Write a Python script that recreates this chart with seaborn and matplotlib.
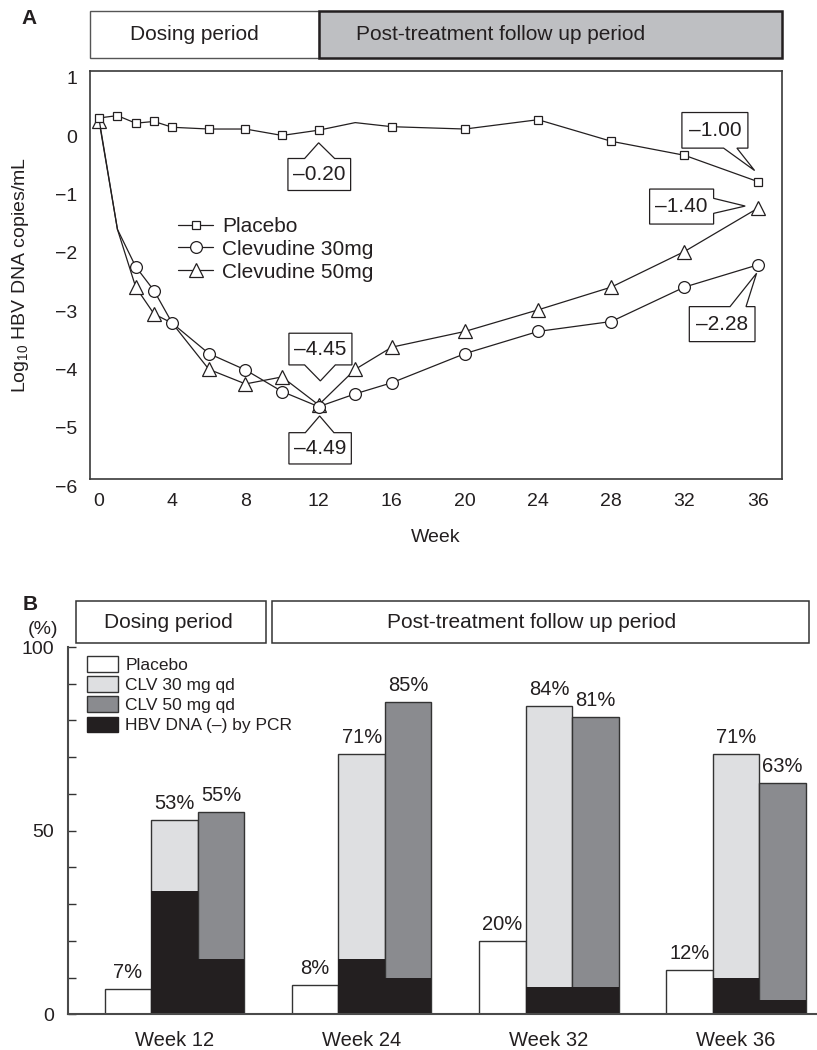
import numpy as np
import pandas as pd
import matplotlib
matplotlib.use("Agg")
import matplotlib.pyplot as plt
import matplotlib.transforms as mtransforms
from matplotlib.patches import Rectangle, Polygon, Patch
from matplotlib.lines import Line2D
import seaborn as sns

# ---------------- Panel A data ----------------
weeks = [0, 1, 2, 3, 4, 6, 8, 10, 12, 14, 16, 20, 24, 28, 32, 36]
placebo = [0.19, 0.23, 0.10, 0.13, 0.03, 0.00, 0.00, -0.11, -0.02, 0.11, 0.04, 0.00, 0.16, -0.21, -0.45, -0.90]
clv30 = [0.16, -1.72, -2.36, -2.77, -3.33, -3.85, -4.13, -4.50, -4.76, -4.54, -4.35, -3.85, -3.47, -3.30, -2.71, -2.33]
clv50 = [0.13, -1.72, -2.71, -3.17, -3.33, -4.12, -4.37, -4.25, -4.73, -4.12, -3.74, -3.47, -3.10, -2.71, -2.10, -1.36]
series_names = ["Placebo", "Clevudine 30mg", "Clevudine 50mg"]
week_ticks = [0, 4, 8, 12, 16, 20, 24, 28, 32, 36]
log_ticks = [-6, -5, -4, -3, -2, -1, 0, 1]
callout_labels = ["\u20130.20", "\u20131.00", "\u20131.40", "\u20132.28", "\u20134.45", "\u20134.49"]
period_labels = ["Dosing period", "Post-treatment follow up period"]

# ---------------- Panel B data ----------------
b_weeks = ["Week 12", "Week 24", "Week 32", "Week 36"]
b_groups = ["Placebo", "CLV 30 mg qd", "CLV 50 mg qd"]
pct_placebo = [7, 8, 20, 12]
pct_clv30 = [53, 71, 84, 71]
pct_clv50 = [55, 85, 81, 63]
pcr_label = "HBV DNA (\u2013) by PCR"
pcr_placebo = [0, 0, 0, 0]
pcr_clv30 = [33.5, 15, 7.5, 10]
pcr_clv50 = [15, 10, 7.5, 4]
pct_ticks = list(range(0, 101, 10))

# ---------------- style ----------------
sns.set_style("white")
plt.rcParams["font.family"] = ["Liberation Sans", "DejaVu Sans"]
plt.rcParams["mathtext.default"] = "regular"
plt.rcParams["text.color"] = "#231f20"

W, H = 817, 1050
fig = plt.figure(figsize=(W / 100, H / 100), dpi=100)

def fx(px):
    return px / W

def fy(py):
    return 1 - py / H

# ================= Panel A =================
axA = fig.add_axes([fx(90), fy(479), fx(782.3) - fx(90), fy(70.7) - fy(479)])
ink = "#231f20"
common = dict(color=ink, lw=0.9, mfc="white", mec=ink, mew=0.9, ax=axA)
sns.lineplot(x=weeks, y=clv30, marker="o", ms=8.5,
             markevery=[i for i in range(len(weeks)) if weeks[i] not in (0, 1)], zorder=4, **common)
sns.lineplot(x=weeks, y=clv50, marker="^", ms=9.5,
             markevery=[i for i in range(len(weeks)) if weeks[i] not in (1, 4)], zorder=3, **common)
sns.lineplot(x=weeks, y=placebo, marker="s", ms=6.4,
             markevery=[i for i in range(len(weeks)) if weeks[i] != 14], zorder=5, **common)

axA.set_xlim(-0.5, 37.35)
axA.set_ylim(-6, 1)
axA.set_xticks(week_ticks)
axA.set_yticks(log_ticks)
axA.tick_params(axis="both", length=0, labelsize=14, colors=ink)
axA.tick_params(axis="x", pad=10)
axA.tick_params(axis="y", pad=9)
for s in axA.spines.values():
    s.set_color("#3a3a3a")
    s.set_linewidth(1.2)
axA.set_xlabel("Week", fontsize=14, color=ink, labelpad=14)
axA.set_ylabel("Log$_{10}$ HBV DNA copies/mL", fontsize=14, color=ink)
axA.yaxis.set_label_coords(-0.085, 0.5)
off = mtransforms.ScaledTranslation(0, -7 / 100, fig.dpi_scale_trans)
for lab in axA.get_yticklabels():
    lab.set_transform(lab.get_transform() + off)

# legend
hA = [Line2D([], [], color=ink, lw=0.9, marker=m, ms=ms, mfc="white", mec=ink, mew=0.9)
      for m, ms in (("s", 6.4), ("o", 8.5), ("^", 9.5))]
fig.legend(hA, series_names, loc="upper left", bbox_to_anchor=(fx(178), fy(217)),
           bbox_transform=fig.transFigure, frameon=False, fontsize=15, borderpad=0,
           borderaxespad=0, handlelength=1.7, handletextpad=0.4, labelspacing=0.18)

# callouts
def callout(ax, xd, yd, text, box, side, base, tip):
    l, r, b, t = box
    a0, a1 = base
    tx, ty = tip
    if side == "top":
        verts = [(l, b), (r, b), (r, t), (a1, t), (tx, ty), (a0, t), (l, t)]
    elif side == "bottom":
        verts = [(l, b), (a0, b), (tx, ty), (a1, b), (r, b), (r, t), (l, t)]
    else:  # right
        verts = [(l, b), (r, b), (r, a0), (tx, ty), (r, a1), (r, t), (l, t)]
    trans = mtransforms.ScaledTranslation(xd, yd, ax.transData)
    ax.add_patch(Polygon(verts, closed=True, transform=trans, facecolor="white",
                         edgecolor=ink, lw=0.9, zorder=6, clip_on=False))
    ax.annotate(text, xy=(xd, yd), xytext=((l + r) / 2 * 0.72, (b + t) / 2 * 0.72),
                textcoords="offset points", ha="center", va="center", fontsize=15,
                color=ink, zorder=7)

i12 = weeks.index(12)
i36 = weeks.index(36)
callout(axA, 12, placebo[i12], callout_labels[0], (-30.7, 32, -60.3, -28.3), "top", (-14, 16), (0, -12.6))
callout(axA, 36, placebo[i36], callout_labels[1], (-75.7, -9.7, 33.4, 69), "bottom", (-34, -20.7), (-3, 11))
callout(axA, 36, clv50[i36], callout_labels[2], (-108, -44, -15.7, 19.3), "right", (-5, 10), (-12.4, 2.3))
callout(axA, 36, clv30[i36], callout_labels[3], (-68.3, -2.6, -76.7, -41.7), "top", (-27.6, -11.6), (-1, -8.3))
callout(axA, 12, clv50[i12], callout_labels[4], (-29.7, 33.3, 40, 71.7), "bottom", (-14, 16.7), (1.7, 24))
callout(axA, 12, clv30[i12], callout_labels[5], (-29.7, 32.7, -57.3, -26), "top", (-13.3, 15.3), (1, -9.3))

# period header A
bt = mtransforms.blended_transform_factory(axA.transData, axA.transAxes)
y0, y1 = 1.0304, 1.147
axA.add_patch(Rectangle((-0.5, y0), 12.5, y1 - y0, transform=bt, facecolor="white",
                        edgecolor="#555555", lw=1.0, clip_on=False))
axA.add_patch(Rectangle((12, y0), 25.35, y1 - y0, transform=bt, facecolor="#bebfc2",
                        edgecolor="#231f20", lw=1.8, clip_on=False))
axA.text(5.2, (y0 + y1) / 2, period_labels[0], transform=bt, ha="center", va="center", fontsize=15, color=ink)
axA.text(21.95, (y0 + y1) / 2, period_labels[1], transform=bt, ha="center", va="center", fontsize=15, color=ink)

fig.text(fx(29), fy(18), "A", ha="center", va="center", fontsize=15, fontweight="bold", color=ink)

# ================= Panel B =================
axB = fig.add_axes([fx(68.3), fy(1014.3), 1 - fx(68.3), fy(647) - fy(1014.3)])
df_tot = pd.DataFrame({
    "week": b_weeks * 3,
    "group": [g for g in b_groups for _ in b_weeks],
    "pct": pct_placebo + pct_clv30 + pct_clv50,
})
df_pcr = pd.DataFrame({
    "week": b_weeks * 3,
    "group": [g for g in b_groups for _ in b_weeks],
    "pct": pcr_placebo + pcr_clv30 + pcr_clv50,
})
pal = {"Placebo": "#ffffff", "CLV 30 mg qd": "#dedfe1", "CLV 50 mg qd": "#8a8b8f"}
black = "#231f20"
sns.barplot(data=df_tot, x="week", y="pct", hue="group", order=b_weeks, hue_order=b_groups,
            palette=pal, saturation=1, width=0.745, gap=0, errorbar=None, legend=False,
            edgecolor="#333333", linewidth=1.0, ax=axB)
for cont in list(axB.containers):
    axB.bar_label(cont, labels=[f"{v:g}%" for v in cont.datavalues], padding=5,
                  fontsize=14.5, color=ink)
sns.barplot(data=df_pcr, x="week", y="pct", hue="group", order=b_weeks, hue_order=b_groups,
            palette={g: black for g in b_groups}, saturation=1, width=0.745, gap=0,
            errorbar=None, legend=False, linewidth=0, ax=axB)

axB.set_xlim(-0.567, 3.432)
axB.set_ylim(0, 100)
axB.set_xlabel("")
axB.set_ylabel("")
axB.set_yticks(pct_ticks)
axB.set_yticklabels([str(t) if t in (0, 50, 100) else "" for t in pct_ticks])
axB.tick_params(axis="y", direction="in", length=6, width=1.0, color="#333333",
                labelsize=14, pad=10, left=True, labelcolor=ink)
axB.tick_params(axis="x", length=0, labelsize=14.5, pad=12, labelcolor=ink)
for side in ("top", "right"):
    axB.spines[side].set_visible(False)
for side in ("left", "bottom"):
    axB.spines[side].set_color("#4a4a4a")
    axB.spines[side].set_linewidth(1.5)

# legend B
hB = [Patch(facecolor=pal[g], edgecolor="#333333", lw=1.0) for g in b_groups]
hB.append(Patch(facecolor=black, edgecolor=black, lw=1.0))
axB.legend(hB, b_groups + [pcr_label], loc="upper left", bbox_to_anchor=(fx(87), fy(656)),
           bbox_transform=fig.transFigure, frameon=False, fontsize=12.5, borderpad=0,
           borderaxespad=0, handlelength=1.8, handleheight=1.0, handletextpad=0.4,
           labelspacing=0.2)

# period header B
yb0, yb1 = 101.1, 112.5
axB.add_patch(Rectangle((-0.526, yb0), 0.526 + 0.487, yb1 - yb0, facecolor="white",
                        edgecolor="#333333", lw=1.1, clip_on=False))
axB.add_patch(Rectangle((0.521, yb0), 3.387 - 0.521, yb1 - yb0, facecolor="white",
                        edgecolor="#333333", lw=1.1, clip_on=False))
axB.text(-0.035, (yb0 + yb1) / 2, period_labels[0], ha="center", va="center", fontsize=15, color=ink)
axB.text(1.91, (yb0 + yb1) / 2, period_labels[1], ha="center", va="center", fontsize=15, color=ink)

fig.text(fx(30), fy(604), "B", ha="center", va="center", fontsize=15, fontweight="bold", color=ink)
fig.text(fx(43.3), fy(629.3), "(%)", ha="center", va="center", fontsize=14, color=ink)

fig.savefig("out.png", dpi=100)
